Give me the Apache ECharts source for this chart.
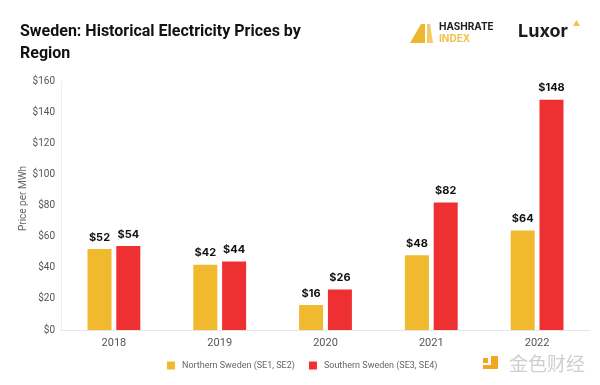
<!DOCTYPE html>
<html><head><meta charset="utf-8">
<script src="https://cdn.jsdelivr.net/npm/echarts@6/dist/echarts.min.js"></script>
<style>html,body{margin:0;padding:0;background:#fff}#c{width:600px;height:385px}</style>
</head><body><div id="c"></div>
<script>
const categories = ['2018','2019','2020','2021','2022'];
const northern = [52, 42, 16, 48, 64];
const southern = [54, 44, 26, 82, 148];
const seriesNames = ['Northern Sweden (SE1, SE2)', 'Southern Sweden (SE3, SE4)'];
const yTicks = [0, 20, 40, 60, 80, 100, 120, 140, 160];

const chart = echarts.init(document.getElementById('c'));
const lbl = {show:true, position:'top', distance:6, formatter: p => '$' + p.value,
  color:'#111', fontWeight:'bold', fontSize:11, fontFamily:'Inter'};
chart.setOption({
  animation:false,
  textStyle:{fontFamily:'Inter'},
  title:{text:'Sweden: Historical Electricity Prices by\nRegion', left:15, top:16,
    textStyle:{fontSize:16, fontWeight:'bold', color:'#111', lineHeight:22, fontFamily:'Roboto'}},
  graphic:[
    {type:'polygon', shape:{points:[[410,43],[421,24],[425,24],[425,43]]}, style:{fill:'#EDB630'}},
    {type:'polygon', shape:{points:[[427,24],[430,24],[433,43],[427,43]]}, style:{fill:'#F3CB62'}},
    {type:'text', left:439, top:22, style:{text:'HASHRATE', fontSize:10, fontWeight:'bold', fill:'#222', fontFamily:'Inter', letterSpacing:1}},
    {type:'text', left:439, top:34, style:{text:'INDEX', fontSize:10, fontWeight:'bold', fill:'#F0C04A', fontFamily:'Inter', letterSpacing:1.5}},
    {type:'text', left:518, top:23, style:{text:'Luxor', fontSize:18, fontWeight:'bold', fill:'#1a1a1a', fontFamily:'Inter'}},
    {type:'polygon', shape:{points:[[573,26],[576.5,20],[580,26]]}, style:{fill:'#F2C14E'}},
    {type:'rect', shape:{x:483, y:358, width:5, height:5}, style:{fill:'#F2A81D'}},
    {type:'polygon', shape:{points:[[491,356],[498,356],[498,369],[483,369],[483,365],[491,365]]}, style:{fill:'#F2A81D'}},
    {type:'text', left:509, top:354, style:{text:'金色财经', fontSize:19, fill:'#cfcfcf', fontFamily:'Noto Sans CJK SC'}}
  ],
  legend:{top:356, left:162, itemWidth:8, itemHeight:8, itemGap:14, icon:'rect',
    textStyle:{fontSize:9, color:'#666', fontFamily:'Roboto', padding:[0,0,0,2]}, data:seriesNames},
  grid:{left:61, right:10, top:81, bottom:55},
  xAxis:{type:'category', data:categories,
    axisLine:{lineStyle:{color:'#e6e6e6'}}, axisTick:{show:false},
    axisLabel:{color:'#555', fontSize:11, margin:8, fontFamily:'Roboto'}},
  yAxis:{type:'value', min:0, max:160, interval:20,
    name:'Price per MWh', nameLocation:'middle', nameGap:33, nameRotate:90, nameMoveOverlap:false,
    nameTextStyle:{color:'#666', fontSize:10, fontFamily:'Roboto', padding:[0,0,0,14]},
    axisLine:{show:true, lineStyle:{color:'#f0f0f0'}}, axisTick:{show:false},
    splitLine:{show:false},
    axisLabel:{color:'#555', fontSize:10, margin:6, fontFamily:'Roboto',
      formatter: v => yTicks.includes(v) ? '$' + v : ''}},
  series:[
    {name:seriesNames[0], type:'bar', data:northern, barWidth:24, barGap:'20%',
      itemStyle:{color:'#F0B92E'}, label:lbl},
    {name:seriesNames[1], type:'bar', data:southern, barWidth:24,
      itemStyle:{color:'#EE3033'}, label:lbl}
  ]
});
</script></body></html>
